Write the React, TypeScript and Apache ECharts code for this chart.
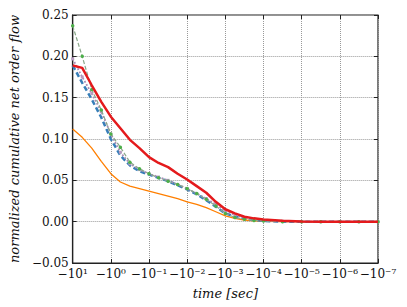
import React, { useEffect, useRef } from "react";
import * as echarts from "echarts";

// x = -log10(|t|), so -1 -> -10^1, 7 -> -10^-7
const xs = [-1, -0.75, -0.5, -0.25, 0, 0.25, 0.5, 0.75, 1, 1.25, 1.5, 1.75, 2, 2.25, 2.5, 2.75, 3, 3.25, 3.5, 3.75, 4, 4.5, 5, 5.5, 6, 6.5, 7];
const redVals = [0.189, 0.186, 0.165, 0.145, 0.127, 0.113, 0.099, 0.089, 0.078, 0.071, 0.066, 0.058, 0.051, 0.043, 0.035, 0.024, 0.015, 0.010, 0.006, 0.004, 0.0025, 0.001, 0.0003, 0, 0, 0, 0];
const orangeVals = [0.112, 0.102, 0.089, 0.073, 0.058, 0.048, 0.043, 0.040, 0.037, 0.034, 0.031, 0.028, 0.024, 0.021, 0.017, 0.012, 0.007, 0.004, 0.002, 0.001, 0.0005, 0, 0, 0, 0, 0, 0];
const greenVals = [0.237, 0.200, 0.160, 0.135, 0.106, 0.090, 0.072, 0.064, 0.058, 0.053, 0.049, 0.045, 0.040, 0.034, 0.027, 0.019, 0.010, 0.005, 0.003, 0.0015, 0.0008, 0, 0, 0, 0, 0, 0];
const blueVals = [0.189, 0.168, 0.148, 0.126, 0.100, 0.080, 0.068, 0.061, 0.057, 0.053, 0.049, 0.044, 0.039, 0.033, 0.026, 0.018, 0.010, 0.006, 0.004, 0.002, 0.001, 0, 0, 0, 0, 0, 0];
const purpleVals = [0.197, 0.175, 0.155, 0.133, 0.106, 0.084, 0.070, 0.063, 0.058, 0.054, 0.050, 0.045, 0.040, 0.034, 0.028, 0.021, 0.013, 0.008, 0.005, 0.003, 0.0015, 0.0005, 0, 0, 0, 0, 0];

const supMap: Record<string, string> = { "-": "⁻", "0": "⁰", "1": "¹", "2": "²", "3": "³", "4": "⁴", "5": "⁵", "6": "⁶", "7": "⁷" };
const sup = (n: number) => String(n).split("").map((c) => supMap[c] || c).join("");

const FONT = "'DejaVu Serif', 'Liberation Serif', serif";

const pairs = (vals: number[]) => xs.map((x, i) => [x, vals[i]]);

export default function App() {
  const ref = useRef<HTMLDivElement>(null);
  useEffect(() => {
    const chart = echarts.init(ref.current!, null, { renderer: "svg" });
    const axisCommonX = {
      type: "value" as const,
      min: -1,
      max: 7,
      interval: 1,
    };
    const axisCommonY = {
      type: "value" as const,
      min: -0.05,
      max: 0.25,
      interval: 0.05,
    };
    chart.setOption({
      animation: false,
      backgroundColor: "#ffffff",
      grid: { left: 65, right: 29, top: 15, bottom: 44, show: true, borderColor: "#222", borderWidth: 1.2 },
      xAxis: [
        {
          ...axisCommonX,
          position: "bottom",
          axisLine: { show: true, onZero: false, lineStyle: { color: "#222", width: 1.2 } },
          axisTick: { show: true, inside: true, length: 4, lineStyle: { color: "#222" } },
          axisLabel: {
            fontFamily: FONT,
            fontSize: 12,
            color: "#111",
            margin: 5,
            formatter: (v: number) => "−10" + sup(-Math.round(v)),
          },
          splitLine: { show: true, lineStyle: { type: "dotted", color: "#999", width: 1 } },
          name: "time [sec]",
          nameLocation: "middle",
          nameGap: 24,
          nameTextStyle: { fontFamily: FONT, fontStyle: "italic", fontSize: 13, color: "#111" },
        },
        {
          ...axisCommonX,
          position: "top",
          axisLine: { show: false, onZero: false },
          axisTick: { show: true, inside: true, length: 4, lineStyle: { color: "#222" } },
          axisLabel: { show: false },
          splitLine: { show: false },
        },
      ],
      yAxis: [
        {
          ...axisCommonY,
          position: "left",
          axisLine: { show: true, onZero: false, lineStyle: { color: "#222", width: 1.2 } },
          axisTick: { show: true, inside: true, length: 4, lineStyle: { color: "#222" } },
          axisLabel: {
            fontFamily: FONT,
            fontSize: 12,
            color: "#111",
            margin: 4,
            formatter: (v: number) => (v < 0 ? "−" : "") + Math.abs(v).toFixed(2),
          },
          splitLine: { show: true, lineStyle: { type: "dotted", color: "#999", width: 1 } },
          name: "normalized cumulative net order flow",
          nameLocation: "middle",
          nameGap: 46,
          nameTextStyle: { fontFamily: FONT, fontStyle: "italic", fontSize: 13, color: "#111" },
        },
        {
          ...axisCommonY,
          position: "right",
          axisLine: { show: false, onZero: false },
          axisTick: { show: true, inside: true, length: 4, lineStyle: { color: "#222" } },
          axisLabel: { show: false },
          splitLine: { show: false },
        },
      ],
      series: [
        {
          type: "line",
          data: pairs(orangeVals),
          showSymbol: false,
          lineStyle: { color: "#ff7f00", width: 1.3 },
          z: 2,
        },
        {
          type: "line",
          data: pairs(blueVals),
          showSymbol: false,
          lineStyle: { color: "#377eb8", width: 2.5, type: [5, 3] },
          z: 3,
        },
        {
          type: "line",
          data: pairs(purpleVals),
          symbol: "rect",
          symbolSize: 3,
          itemStyle: { color: "#b79cc0" },
          lineStyle: { color: "#a88cb5", width: 1.8, type: "dotted" },
          z: 4,
        },
        {
          type: "line",
          data: pairs(greenVals),
          symbol: "circle",
          symbolSize: 3.5,
          itemStyle: { color: "#4daf4a", borderWidth: 0 },
          lineStyle: { color: "#8aa88a", width: 1.2, type: [4, 2] },
          z: 5,
        },
        {
          type: "line",
          data: pairs(redVals),
          showSymbol: false,
          lineStyle: { color: "#e41a1c", width: 2.5 },
          z: 6,
        },
      ],
    });
    return () => chart.dispose();
  }, []);
  return <div ref={ref} style={{ position: "fixed", left: 0, top: 0, width: 407, height: 307 }} />;
}
